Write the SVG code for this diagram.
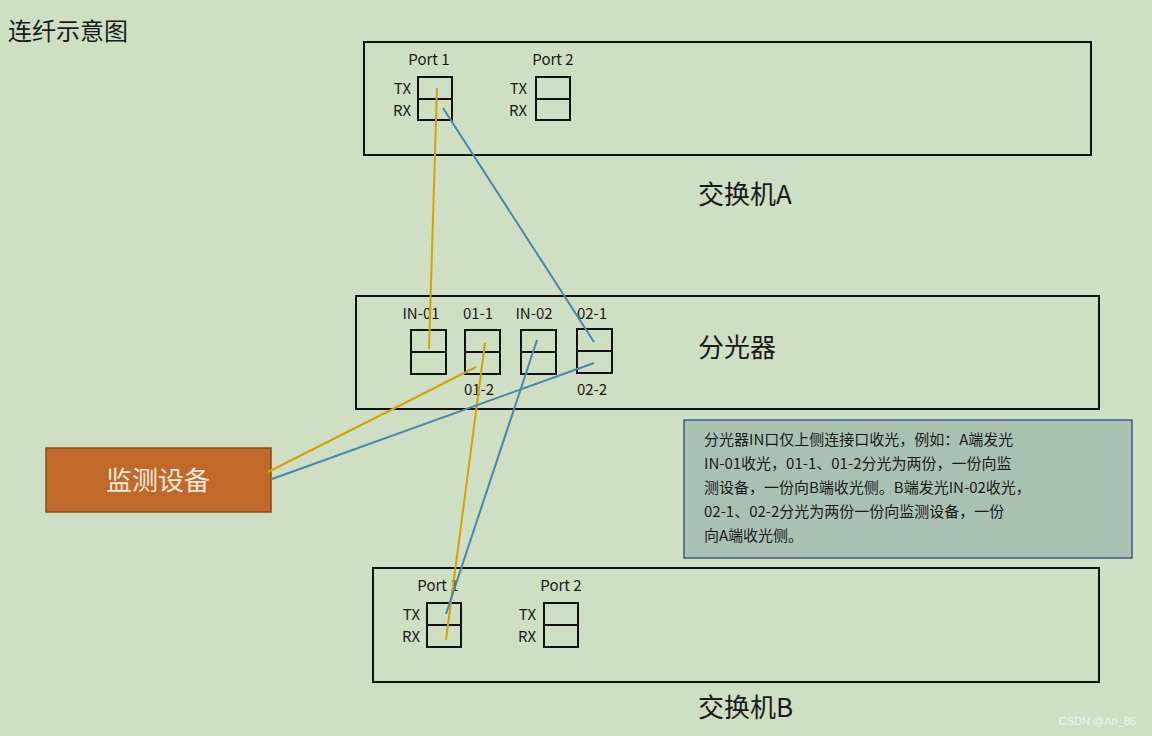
<svg xmlns="http://www.w3.org/2000/svg" width="1152" height="736" viewBox="0 0 1152 736">
<style>
text{font-family:"Noto Sans CJK SC","Noto Sans",sans-serif;fill:#1a1a1a}
.s{font-size:15px}
.big{font-size:26px}
.frame{fill:none;stroke:#111;stroke-width:2}
.port{fill:none;stroke:#111;stroke-width:2}
.y{stroke:#d4a300;stroke-width:2;fill:none}
.b{stroke:#4a88a8;stroke-width:2;fill:none}
</style>
<rect width="1152" height="736" fill="#cfdfc3"/>
<text x="8" y="40" font-size="24">连纤示意图</text>
<g id="switchA">
<rect class="frame" x="364" y="42" width="727" height="113"/>
<text class="s" x="429" y="65" text-anchor="middle">Port 1</text>
<text class="s" x="553" y="65" text-anchor="middle">Port 2</text>
<text class="s" x="411" y="94" text-anchor="end">TX</text><text class="s" x="411" y="116" text-anchor="end">RX</text>
<text class="s" x="527" y="94" text-anchor="end">TX</text><text class="s" x="527" y="116" text-anchor="end">RX</text>
<rect class="port" x="418" y="77" width="34" height="43"/><line class="port" x1="418" y1="99" x2="452" y2="99"/>
<rect class="port" x="536" y="77" width="34" height="43"/><line class="port" x1="536" y1="99" x2="570" y2="99"/>
<text class="big" x="698" y="204">交换机A</text>
</g>
<g id="splitter">
<rect class="frame" x="356" y="296" width="743" height="113"/>
<text class="s" x="421" y="319" text-anchor="middle">IN-01</text>
<text class="s" x="478" y="319" text-anchor="middle">01-1</text>
<text class="s" x="534" y="319" text-anchor="middle">IN-02</text>
<text class="s" x="592" y="319" text-anchor="middle">02-1</text>
<text class="s" x="479" y="395" text-anchor="middle">01-2</text>
<text class="s" x="592" y="395" text-anchor="middle">02-2</text>
<rect class="port" x="411" y="330" width="35" height="44"/><line class="port" x1="411" y1="352" x2="446" y2="352"/>
<rect class="port" x="465" y="330" width="35" height="44"/><line class="port" x1="465" y1="352" x2="500" y2="352"/>
<rect class="port" x="521" y="330" width="35" height="44"/><line class="port" x1="521" y1="352" x2="556" y2="352"/>
<rect class="port" x="577" y="329" width="35" height="44"/><line class="port" x1="577" y1="351" x2="612" y2="351"/>
<text class="big" x="698" y="357">分光器</text>
</g>
<g id="switchB">
<rect class="frame" x="373" y="568" width="726" height="114"/>
<text class="s" x="438" y="591" text-anchor="middle">Port 1</text>
<text class="s" x="561" y="591" text-anchor="middle">Port 2</text>
<text class="s" x="420" y="620" text-anchor="end">TX</text><text class="s" x="420" y="642" text-anchor="end">RX</text>
<text class="s" x="536" y="620" text-anchor="end">TX</text><text class="s" x="536" y="642" text-anchor="end">RX</text>
<rect class="port" x="427" y="603" width="34" height="44"/><line class="port" x1="427" y1="625" x2="461" y2="625"/>
<rect class="port" x="544" y="603" width="34" height="44"/><line class="port" x1="544" y1="625" x2="578" y2="625"/>
<text class="big" x="698" y="717">交换机B</text>
</g>
<g id="monitor">
<rect x="46" y="448" width="225" height="64" fill="#c0692a" stroke="#8a4a1a" stroke-width="1.5"/>
<text x="158" y="490" font-size="26" text-anchor="middle" style="fill:#f4e8dc">监测设备</text>
</g>
<g id="note">
<rect x="684" y="420" width="448" height="138" fill="#a9c1b2" stroke="#3a5a8a" stroke-width="1.5"/>
<text class="s" x="704" y="445">分光器IN口仅上侧连接口收光，例如：A端发光</text>
<text class="s" x="704" y="469">IN-01收光，01-1、01-2分光为两份，一份向监</text>
<text class="s" x="704" y="493">测设备，一份向B端收光侧。B端发光IN-02收光，</text>
<text class="s" x="704" y="517">02-1、02-2分光为两份一份向监测设备，一份</text>
<text class="s" x="704" y="541">向A端收光侧。</text>
</g>
<g id="connectors">
<line class="y" x1="437" y1="88" x2="429" y2="349"/>
<line class="b" x1="443" y1="108" x2="594" y2="342"/>
<line class="y" x1="485" y1="343" x2="446" y2="640"/>
<line class="y" x1="476" y1="367" x2="268" y2="472"/>
<line class="b" x1="537" y1="340" x2="446" y2="614"/>
<line class="b" x1="594" y1="363" x2="272" y2="479"/>
</g>
<text x="1136" y="725" font-size="11" text-anchor="end" style="fill:#f0f0f0;font-family:'Liberation Sans',sans-serif">CSDN @Ari_86</text>
</svg>
